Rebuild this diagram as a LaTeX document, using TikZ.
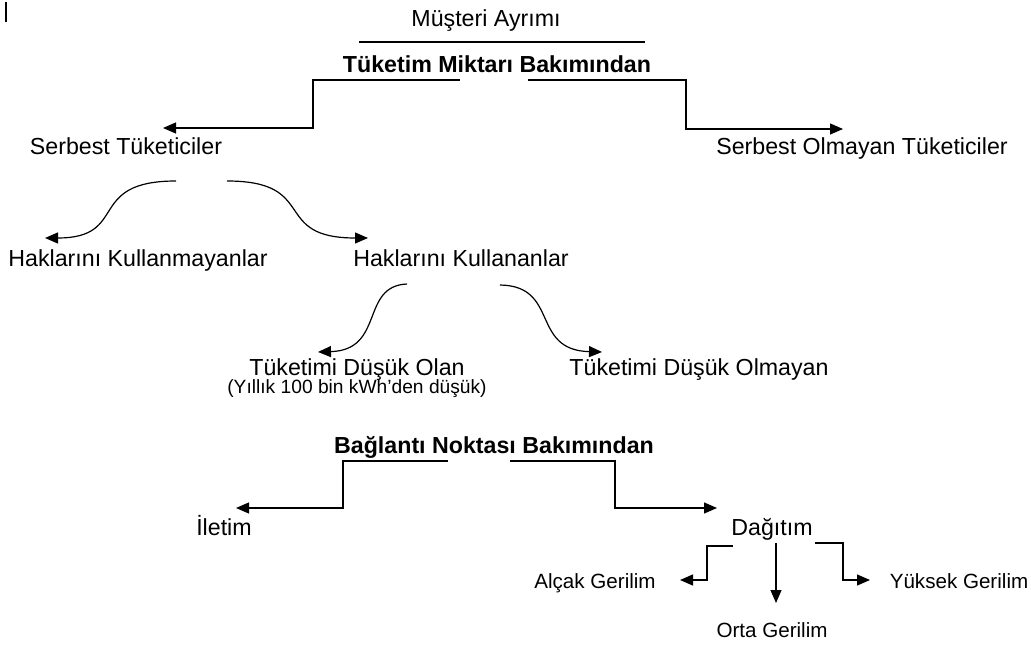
\documentclass[tikz,border=0pt]{standalone}
\usepackage{fontspec}
\setmainfont{Liberation Sans}
\usetikzlibrary{arrows.meta}

\tikzset{
  lbl/.style={inner sep=0pt, anchor=base, font=\fontsize{11.6}{14}\selectfont},
  lblsmall/.style={inner sep=0pt, anchor=base, font=\fontsize{9.6}{12}\selectfont},
  lblmid/.style={inner sep=0pt, anchor=base, font=\fontsize{10.3}{13}\selectfont},
  head/.style={inner sep=0pt, anchor=base, font=\fontsize{11.6}{14}\selectfont\bfseries},
  arr/.style={-{Triangle[length=6.5pt,width=5.5pt]}, line width=0.6pt},
  plain/.style={line width=0.6pt},
}

\begin{document}
\begin{tikzpicture}[x=0.5pt, y=-0.5pt]

            \useasboundingbox (0,0) rectangle (1031,646);

            % Small mark at top left
            \draw[plain] (6,2) -- (6,22);

            % Title
            \node[lbl] (title) at (486,27) {Müşteri Ayrımı};
            \draw[plain] (359,42) -- (645,42);

            % Consumption amount
            \node[head] (tmb) at (497,73) {Tüketim Miktarı Bakımından};
            \node[lbl] (serb) at (126,155) {Serbest Tüketiciler};
            \node[lbl] (nserb) at (862,155) {Serbest Olmayan Tüketiciler};

            \coordinate (tmbL) at (460,80);
            \coordinate (tmbR) at (528,80);
            \coordinate (serbIn) at (163,128);
            \coordinate (nserbIn) at (843,129);
            \draw[arr] (tmbL) -- (313,80) |- (serbIn);
            \draw[arr] (tmbR) -- (686,80) |- (nserbIn);

            % Free consumers
            \node[lbl] (hkm) at (138,267) {Haklarını Kullanmayanlar};
            \node[lbl] (hk) at (461,267) {Haklarını Kullananlar};

            \coordinate (serbL) at (176,181);
            \coordinate (serbR) at (227,181);
            \coordinate (hkmIn) at (45,238);
            \coordinate (hkIn) at (368,238);
            \draw[arr] (serbL) .. controls (85,181) and (130,238) .. (hkmIn);
            \draw[arr] (serbR) .. controls (320,181) and (270,238) .. (hkIn);

            % Using their rights
            \node[lbl] (dusuk) at (357,375) {Tüketimi Düşük Olan};
            \node[lblsmall] (dusukNot) at (357,393) {(Yıllık 100 bin kWh’den düşük)};
            \node[lbl] (ndusuk) at (699,375) {Tüketimi Düşük Olmayan};

            \coordinate (hkL) at (407,284);
            \coordinate (hkR) at (500,285);
            \coordinate (dusukIn) at (318,352);
            \coordinate (ndusukIn) at (602,352);
            \draw[arr] (hkL) .. controls (360,286) and (385,350) .. (dusukIn);
            \draw[arr] (hkR) .. controls (560,286) and (530,350) .. (ndusukIn);

            % Connection point
            \node[head] (bnb) at (494,453) {Bağlantı Noktası Bakımından};
            \node[lbl] (iletim) at (224,535) {İletim};
            \node[lbl] (dagitim) at (772,535) {Dağıtım};

            \coordinate (bnbL) at (448,461);
            \coordinate (bnbR) at (510,461);
            \coordinate (iletimIn) at (236,508);
            \coordinate (dagitimIn) at (717,508);
            \draw[arr] (bnbL) -- (343,461) |- (iletimIn);
            \draw[arr] (bnbR) -- (615,461) |- (dagitimIn);

            % Voltage levels
            \node[lblmid] (alcak) at (595,588) {Alçak Gerilim};
            \node[lblmid] (orta) at (772,637) {Orta Gerilim};
            \node[lblmid] (yuksek) at (959,588) {Yüksek Gerilim};

            \coordinate (dagL) at (733,546);
            \coordinate (dagM) at (776,543);
            \coordinate (dagR) at (815,543);
            \coordinate (alcakIn) at (680,580);
            \coordinate (ortaIn) at (776,603);
            \coordinate (yuksekIn) at (870,580);
            \draw[arr] (dagL) -- (707,546) |- (alcakIn);
            \draw[arr] (dagM) -- (ortaIn);
            \draw[arr] (dagR) -- (843,543) |- (yuksekIn);

\end{tikzpicture}
\end{document}
